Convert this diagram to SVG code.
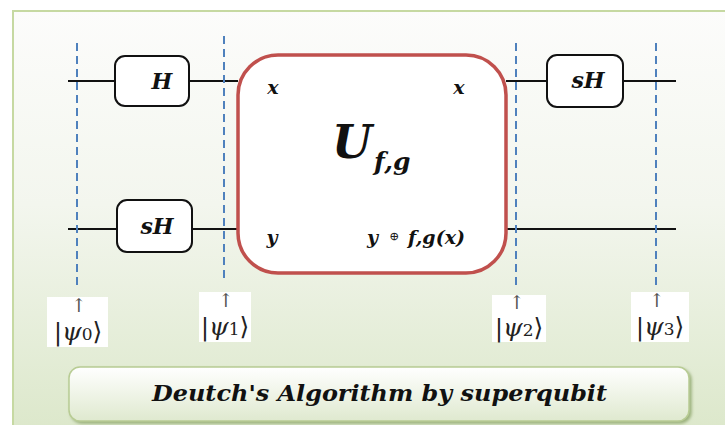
<svg xmlns="http://www.w3.org/2000/svg" width="725" height="425" viewBox="0 0 725 425">
<defs>
<linearGradient id="bg" x1="0" y1="0" x2="0" y2="1">
<stop offset="0" stop-color="#fcfcfb"/>
<stop offset="0.45" stop-color="#f3f6ee"/>
<stop offset="1" stop-color="#dbe7c9"/>
</linearGradient>
<linearGradient id="tb" x1="0" y1="0" x2="0" y2="1">
<stop offset="0" stop-color="#ffffff"/>
<stop offset="1" stop-color="#dfe9cf"/>
</linearGradient>
<filter id="sh" x="-5%" y="-20%" width="110%" height="150%">
<feDropShadow dx="2" dy="2" stdDeviation="1.5" flood-color="#7f9a5a" flood-opacity="0.7"/>
</filter>
</defs>
<style>
.wire{stroke:#111;stroke-width:2;fill:none}
.dash{stroke:#4f81bd;stroke-width:2;stroke-dasharray:8,5;fill:none}
.gate{fill:#fff;stroke:#111;stroke-width:2}
.m{font-family:'DejaVu Serif',serif;font-weight:bold;font-style:italic;fill:#111}
.ket{font-family:'DejaVu Serif',serif;fill:#222}
.arr{font-family:'DejaVu Serif',serif;fill:#555}
</style>
<rect x="0" y="0" width="725" height="425" fill="#ffffff"/>
<rect x="13" y="11" width="730" height="430" fill="url(#bg)" stroke="#c6d9a2" stroke-width="2"/>

<g id="connectors">
<line class="wire" x1="68" y1="81" x2="115" y2="81"/>
<line class="wire" x1="189" y1="81" x2="238" y2="81"/>
<line class="wire" x1="506" y1="81" x2="547" y2="81"/>
<line class="wire" x1="623" y1="81" x2="676" y2="81"/>
<line class="wire" x1="68" y1="229" x2="117" y2="229"/>
<line class="wire" x1="192" y1="229" x2="238" y2="229"/>
<line class="wire" x1="506" y1="229" x2="676" y2="229"/>
<line class="dash" x1="77" y1="43" x2="77" y2="288"/>
<line class="dash" x1="224" y1="36" x2="224" y2="282"/>
<line class="dash" x1="516" y1="43" x2="516" y2="290"/>
<line class="dash" x1="656" y1="43" x2="656" y2="286"/>
</g>

<g id="gate-H">
<rect class="gate" x="115" y="56" width="74" height="50" rx="10"/>
<text class="m" x="162" y="89" font-size="22" text-anchor="middle">H</text>
</g>
<g id="gate-sH-bottom">
<rect class="gate" x="117" y="200" width="75" height="52" rx="10"/>
<text class="m" x="157" y="234" font-size="22" text-anchor="middle">sH</text>
</g>
<g id="gate-sH-top">
<rect class="gate" x="547" y="55" width="76" height="52" rx="10"/>
<text class="m" x="588" y="88" font-size="22" text-anchor="middle">sH</text>
</g>

<g id="oracle">
<rect x="238" y="55" width="268" height="218" rx="40" fill="#fff" stroke="#c0504d" stroke-width="3.5"/>
<text class="m" x="273" y="94" font-size="19" text-anchor="middle">x</text>
<text class="m" x="459" y="94" font-size="19" text-anchor="middle">x</text>
<text class="m" x="332" y="158" font-size="46">U</text>
<text class="m" x="374" y="170" font-size="25">f,g</text>
<text class="m" x="272" y="244" font-size="19" text-anchor="middle">y</text>
<text class="m" x="367" y="244" font-size="19">y</text>
<text class="ket" x="394" y="240" font-size="12" text-anchor="middle">⊕</text>
<text class="m" x="408" y="244" font-size="19">f,g(x)</text>
</g>

<g id="psi0">
<rect x="47" y="297" width="61" height="50" fill="#fff"/>
<text class="arr" x="79" y="312" font-size="19" text-anchor="middle">↑</text>
<text class="ket" x="78" y="340" font-size="25" text-anchor="middle">|<tspan font-style="italic">ψ</tspan><tspan font-size="17">0</tspan>⟩</text>
</g>
<g id="psi1">
<rect x="199" y="292" width="52" height="50" fill="#fff"/>
<text class="arr" x="226" y="307" font-size="19" text-anchor="middle">↑</text>
<text class="ket" x="225" y="335" font-size="25" text-anchor="middle">|<tspan font-style="italic">ψ</tspan><tspan font-size="17">1</tspan>⟩</text>
</g>
<g id="psi2">
<rect x="492" y="295" width="54" height="47" fill="#fff"/>
<text class="arr" x="517" y="309" font-size="19" text-anchor="middle">↑</text>
<text class="ket" x="519" y="336" font-size="25" text-anchor="middle">|<tspan font-style="italic">ψ</tspan><tspan font-size="17">2</tspan>⟩</text>
</g>
<g id="psi3">
<rect x="631" y="292" width="58" height="50" fill="#fff"/>
<text class="arr" x="657" y="307" font-size="19" text-anchor="middle">↑</text>
<text class="ket" x="660" y="335" font-size="25" text-anchor="middle">|<tspan font-style="italic">ψ</tspan><tspan font-size="17">3</tspan>⟩</text>
</g>

<g id="title">
<rect x="69" y="367" width="620" height="54" rx="11" fill="url(#tb)" stroke="#b8cc94" stroke-width="1.5" filter="url(#sh)"/>
<text class="m" x="152" y="401" font-size="23" textLength="455" lengthAdjust="spacingAndGlyphs">Deutch's Algorithm by superqubit</text>
</g>
</svg>
